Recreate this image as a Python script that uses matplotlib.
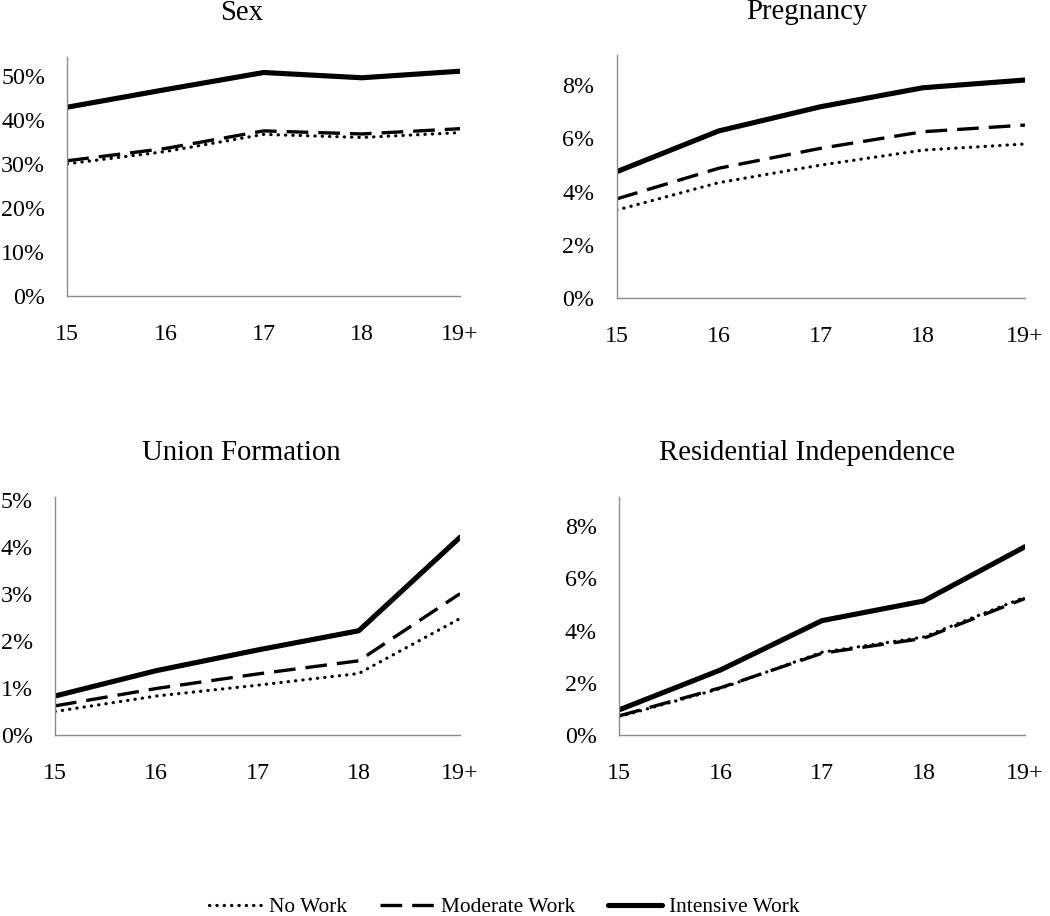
import matplotlib
matplotlib.use("Agg")
import matplotlib.pyplot as plt
from matplotlib.ticker import FuncFormatter, MultipleLocator
from matplotlib.lines import Line2D

plt.rcParams['font.family'] = ['Liberation Serif', 'DejaVu Serif']

ages = ["15", "16", "17", "18", "19+"]
series_names = ["No Work", "Moderate Work", "Intensive Work"]

sex_no = [0.301, 0.329, 0.368, 0.361, 0.372]
sex_mod = [0.308, 0.336, 0.376, 0.369, 0.381]
sex_int = [0.430, 0.470, 0.509, 0.497, 0.512]

preg_no = [0.0331, 0.0434, 0.0500, 0.0556, 0.0579]
preg_mod = [0.0373, 0.0488, 0.0563, 0.0625, 0.0650]
preg_int = [0.0475, 0.0628, 0.0719, 0.0790, 0.0819]

union_no = [0.0050, 0.0083, 0.0106, 0.0131, 0.0248]
union_mod = [0.0062, 0.0099, 0.0130, 0.0158, 0.0301]
union_int = [0.0083, 0.0137, 0.0181, 0.0222, 0.0421]

res_no = [0.0070, 0.0178, 0.0317, 0.0375, 0.0528]
res_mod = [0.0073, 0.0181, 0.0313, 0.0370, 0.0523]
res_int = [0.0096, 0.0249, 0.0438, 0.0513, 0.0721]

panels = [
    ("Sex", [sex_no, sex_mod, sex_int], 0.545, 0.10,
     [0.0641, 0.6769, 0.3740, 0.2612], 241.7, 13),
    ("Pregnancy", [preg_no, preg_mod, preg_int], 0.0913, 0.02,
     [0.5873, 0.6743, 0.3889, 0.2657], 806.7, 12),
    ("Union Formation", [union_no, union_mod, union_int], 0.0506, 0.01,
     [0.0524, 0.1976, 0.3857, 0.2594], 241.7, 453),
    ("Residential Independence", [res_no, res_mod, res_int], 0.091, 0.02,
     [0.5895, 0.1976, 0.3867, 0.2594], 806.7, 453),
]

styles = [
    dict(color='black', lw=2.3, linestyle=(0, (0.1, 2.2)), dash_capstyle='round'),
    dict(color='black', lw=2.4, linestyle=(0, (6.5, 3.0))),
    dict(color='black', lw=3.7, solid_capstyle='round', solid_joinstyle='round'),
]

W, H = 1050, 916
fig = plt.figure(figsize=(W / 100, H / 100), dpi=100)

pct = FuncFormatter(lambda v, p: f"{v*100:.0f}%")
x = list(range(len(ages)))

for title, data, ymax, step, rect, tx, ty in panels:
    ax = fig.add_axes(rect)
    for vals, st in zip(data, styles):
        ax.plot(x, vals, **st)
    ax.set_xlim(0, len(ages) - 1)
    ax.set_ylim(0, ymax)
    ax.set_xticks(x)
    ax.set_xticklabels(ages)
    ax.yaxis.set_major_locator(MultipleLocator(step))
    ax.yaxis.set_major_formatter(pct)
    for s in ['top', 'right']:
        ax.spines[s].set_visible(False)
    for s in ['left', 'bottom']:
        ax.spines[s].set_color('#8c8c8c')
        ax.spines[s].set_linewidth(1.0)
    ax.tick_params(axis='both', length=0, labelsize=17.3, colors='black')
    ax.tick_params(axis='y', pad=16)
    ax.tick_params(axis='x', pad=20)
    for lab in ax.get_xticklabels():
        lab.set_clip_on(False)
    fig.text(tx / W, 1 - ty / H, title, ha='center', va='center', fontsize=20.7)

handles = [Line2D([0], [0], **st) for st in styles]
fig.legend(handles, series_names, loc='center', bbox_to_anchor=(0.48, 1 - 907 / H),
           ncol=3, frameon=False, fontsize=15.4, handlelength=2.5,
           handletextpad=0.33, columnspacing=1.55, borderpad=0)

fig.savefig("out.png", dpi=100)
